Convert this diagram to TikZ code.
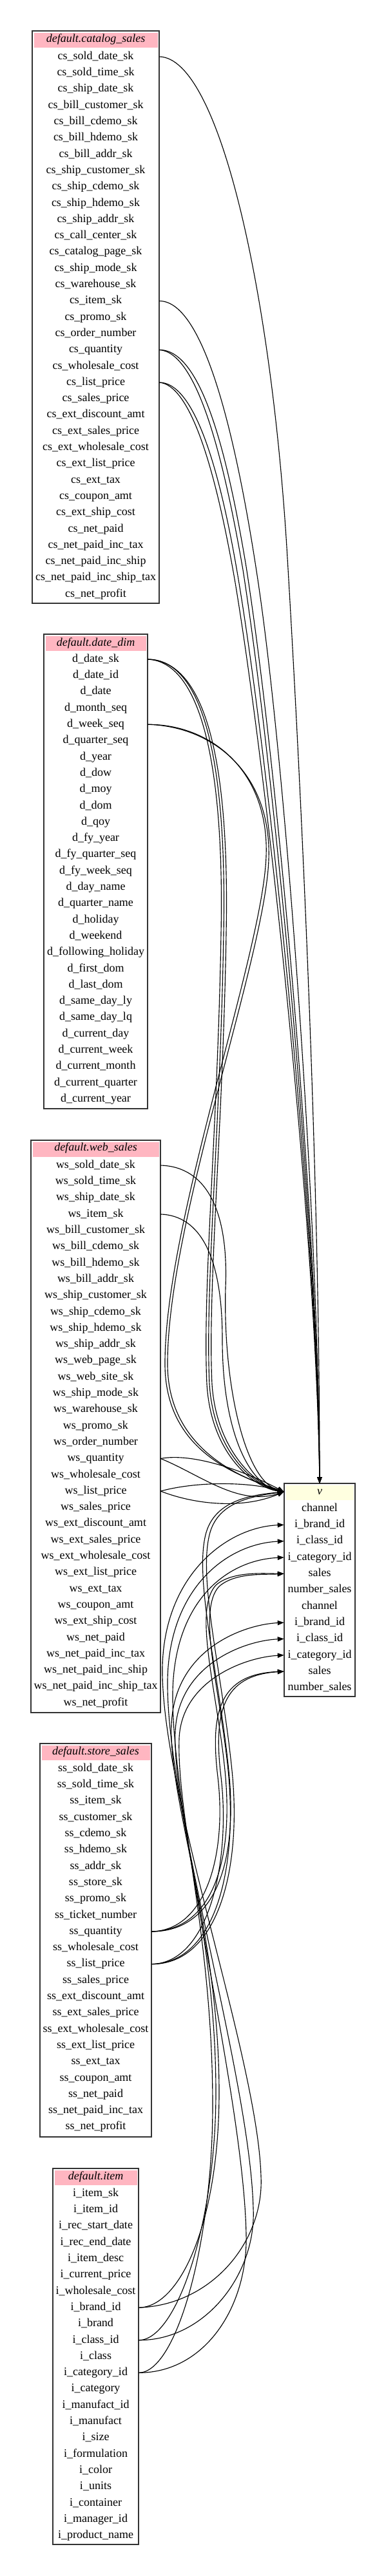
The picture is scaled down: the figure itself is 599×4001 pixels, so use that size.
\documentclass[tikz,border=0pt]{standalone}
\usepackage{fontspec}
\setmainfont{Liberation Serif}
\usetikzlibrary{arrows.meta}

\definecolor{hdrpink}{HTML}{FFB6C1}
\definecolor{hdryellow}{HTML}{FFFFE0}

\tikzset{
  tblbox/.style={draw=black!80, line width=1pt, fill=white},
  colrow/.style={minimum width=#1*0.75pt, minimum height=18.975pt, inner sep=0pt,
    text height=9.5pt, text depth=3pt, font=\fontsize{13.5}{16}\selectfont},
  tblhead/.style={colrow=#1, font=\fontsize{13.5}{16}\selectfont\itshape},
  flow/.style={-{Triangle[length=7.5pt,width=5.5pt]}, line width=0.85pt},
}

\begin{document}
\begin{tikzpicture}[x=0.75pt, y=-0.75pt]
  \fill[white] (0,0) rectangle (599,4001);
  \useasboundingbox (0,0) rectangle (599,4001);

  % catalog_sales table
  \draw[tblbox] (50,48) rectangle (247,937);
  \fill[hdrpink] (52.5,50.5) rectangle (244.5,74);
  \node[tblhead=197] (csh) at (148.5,61) {default.catalog\_sales};
  \foreach \c [count=\i from 0] in {cs\_sold\_date\_sk, cs\_sold\_time\_sk, cs\_ship\_date\_sk,
      cs\_bill\_customer\_sk, cs\_bill\_cdemo\_sk, cs\_bill\_hdemo\_sk, cs\_bill\_addr\_sk,
      cs\_ship\_customer\_sk, cs\_ship\_cdemo\_sk, cs\_ship\_hdemo\_sk, cs\_ship\_addr\_sk,
      cs\_call\_center\_sk, cs\_catalog\_page\_sk, cs\_ship\_mode\_sk, cs\_warehouse\_sk,
      cs\_item\_sk, cs\_promo\_sk, cs\_order\_number, cs\_quantity, cs\_wholesale\_cost,
      cs\_list\_price, cs\_sales\_price, cs\_ext\_discount\_amt, cs\_ext\_sales\_price,
      cs\_ext\_wholesale\_cost, cs\_ext\_list\_price, cs\_ext\_tax, cs\_coupon\_amt,
      cs\_ext\_ship\_cost, cs\_net\_paid, cs\_net\_paid\_inc\_tax, cs\_net\_paid\_inc\_ship,
      cs\_net\_paid\_inc\_ship\_tax, cs\_net\_profit}
    \node[colrow=197] (cs\i) at (148.5,{88+25.3*\i}) {\c};

  % date_dim table
  \draw[tblbox] (68,985) rectangle (229,1722);
  \fill[hdrpink] (70.5,987.5) rectangle (226.5,1011);
  \node[tblhead=161] (ddh) at (148.5,999) {default.date\_dim};
  \foreach \c [count=\i from 0] in {d\_date\_sk, d\_date\_id, d\_date, d\_month\_seq,
      d\_week\_seq, d\_quarter\_seq, d\_year, d\_dow, d\_moy, d\_dom, d\_qoy, d\_fy\_year,
      d\_fy\_quarter\_seq, d\_fy\_week\_seq, d\_day\_name, d\_quarter\_name, d\_holiday,
      d\_weekend, d\_following\_holiday, d\_first\_dom, d\_last\_dom, d\_same\_day\_ly,
      d\_same\_day\_lq, d\_current\_day, d\_current\_week, d\_current\_month,
      d\_current\_quarter, d\_current\_year}
    \node[colrow=161] (dd\i) at (148.5,{1024+25.3*\i}) {\c};

  % web_sales table
  \draw[tblbox] (48,1771) rectangle (249,2660);
  \fill[hdrpink] (50.5,1773.5) rectangle (246.5,1797);
  \node[tblhead=201] (wsh) at (148.5,1783) {default.web\_sales};
  \foreach \c [count=\i from 0] in {ws\_sold\_date\_sk, ws\_sold\_time\_sk, ws\_ship\_date\_sk,
      ws\_item\_sk, ws\_bill\_customer\_sk, ws\_bill\_cdemo\_sk, ws\_bill\_hdemo\_sk,
      ws\_bill\_addr\_sk, ws\_ship\_customer\_sk, ws\_ship\_cdemo\_sk, ws\_ship\_hdemo\_sk,
      ws\_ship\_addr\_sk, ws\_web\_page\_sk, ws\_web\_site\_sk, ws\_ship\_mode\_sk,
      ws\_warehouse\_sk, ws\_promo\_sk, ws\_order\_number, ws\_quantity, ws\_wholesale\_cost,
      ws\_list\_price, ws\_sales\_price, ws\_ext\_discount\_amt, ws\_ext\_sales\_price,
      ws\_ext\_wholesale\_cost, ws\_ext\_list\_price, ws\_ext\_tax, ws\_coupon\_amt,
      ws\_ext\_ship\_cost, ws\_net\_paid, ws\_net\_paid\_inc\_tax, ws\_net\_paid\_inc\_ship,
      ws\_net\_paid\_inc\_ship\_tax, ws\_net\_profit}
    \node[colrow=201] (ws\i) at (148.5,{1810+25.3*\i}) {\c};

  % store_sales table
  \draw[tblbox] (62,2708) rectangle (235,3319);
  \fill[hdrpink] (64.5,2710.5) rectangle (232.5,2734);
  \node[tblhead=173] (ssh) at (148.5,2721) {default.store\_sales};
  \foreach \c [count=\i from 0] in {ss\_sold\_date\_sk, ss\_sold\_time\_sk, ss\_item\_sk,
      ss\_customer\_sk, ss\_cdemo\_sk, ss\_hdemo\_sk, ss\_addr\_sk, ss\_store\_sk, ss\_promo\_sk,
      ss\_ticket\_number, ss\_quantity, ss\_wholesale\_cost, ss\_list\_price, ss\_sales\_price,
      ss\_ext\_discount\_amt, ss\_ext\_sales\_price, ss\_ext\_wholesale\_cost,
      ss\_ext\_list\_price, ss\_ext\_tax, ss\_coupon\_amt, ss\_net\_paid,
      ss\_net\_paid\_inc\_tax, ss\_net\_profit}
    \node[colrow=173] (ss\i) at (148.5,{2747+25.3*\i}) {\c};

  % item table
  \draw[tblbox] (82,3368) rectangle (215,3952);
  \fill[hdrpink] (84.5,3370.5) rectangle (212.5,3394);
  \node[tblhead=133] (ith) at (148.5,3381) {default.item};
  \foreach \c [count=\i from 0] in {i\_item\_sk, i\_item\_id, i\_rec\_start\_date,
      i\_rec\_end\_date, i\_item\_desc, i\_current\_price, i\_wholesale\_cost, i\_brand\_id,
      i\_brand, i\_class\_id, i\_class, i\_category\_id, i\_category, i\_manufact\_id,
      i\_manufact, i\_size, i\_formulation, i\_color, i\_units, i\_container,
      i\_manager\_id, i\_product\_name}
    \node[colrow=133] (it\i) at (148.5,{3407+25.3*\i}) {\c};

  % result view v
  \draw[tblbox] (441,2304) rectangle (551,2635);
  \fill[hdryellow] (443.5,2306.5) rectangle (548.5,2330);
  \node[tblhead=110] (vh) at (496,2317) {v};
  \foreach \c [count=\i from 0] in {channel, i\_brand\_id, i\_class\_id, i\_category\_id,
      sales, number\_sales, channel, i\_brand\_id, i\_class\_id, i\_category\_id,
      sales, number\_sales}
    \node[colrow=110] (v\i) at (496,{2343+25.3*\i}) {\c};

  % catalog_sales into the top of v
  \draw[flow] (cs0.east) .. controls (340,90) and (420,450) .. (445,850)
    .. controls (475,1350) and (496,1900) .. (vh.north);
  \draw[flow] (cs15.east) .. controls (320,467) and (370,700) .. (400,900)
    .. controls (445,1200) and (494,1900) .. (vh.north);
  \draw[flow] (cs18.east) .. controls (312,543) and (352,700) .. (382,880)
    .. controls (432,1200) and (493,1900) .. (vh.north);
  \draw[flow] (cs18.east) .. controls (305,547) and (346,705) .. (377,885)
    .. controls (426,1200) and (492,1900) .. (vh.north);
  \draw[flow] (cs20.east) .. controls (300,594) and (340,720) .. (370,900)
    .. controls (420,1200) and (491,1900) .. (vh.north);
  \draw[flow] (cs20.east) .. controls (295,598) and (334,725) .. (365,905)
    .. controls (414,1200) and (490,1900) .. (vh.north);

  % date_dim into v
  \draw[flow] (dd0.east) .. controls (320,1024) and (352,1200) .. (347,1450)
    .. controls (342,1750) and (318,2000) .. (325,2150)
    .. controls (332,2260) and (400,2310) .. (vh.west);
  \draw[flow] (dd0.east) .. controls (324,1026) and (356,1200) .. (351,1450)
    .. controls (346,1750) and (322,2000) .. (329,2150)
    .. controls (336,2255) and (400,2308) .. (vh.west);
  \draw[flow] (dd0.east) .. controls (316,1028) and (348,1205) .. (343,1450)
    .. controls (338,1750) and (314,2000) .. (321,2150)
    .. controls (328,2265) and (400,2312) .. (vh.west);
  \draw[flow] (dd4.east) .. controls (330,1125) and (418,1200) .. (413,1330)
    .. controls (408,1480) and (255,1900) .. (256,2120)
    .. controls (257,2260) and (380,2295) .. (vh.west);
  \draw[flow] (dd4.east) .. controls (334,1128) and (422,1205) .. (417,1335)
    .. controls (412,1485) and (259,1900) .. (260,2120)
    .. controls (261,2255) and (382,2298) .. (vh.west);

  % web_sales into v
  \draw[flow] (ws0.east) .. controls (320,1812) and (355,1880) .. (350,2000)
    .. controls (346,2150) and (380,2300) .. (vh.west);
  \draw[flow] (ws3.east) .. controls (310,1888) and (345,1950) .. (345,2080)
    .. controls (345,2220) and (385,2305) .. (vh.west);
  \draw[flow] (ws18.east) .. controls (300,2256) and (380,2285) .. (vh.west);
  \draw[flow] (ws18.east) .. controls (310,2290) and (370,2340) .. (vh.west);
  \draw[flow] (ws20.east) .. controls (300,2302) and (380,2300) .. (vh.west);
  \draw[flow] (ws20.east) .. controls (300,2336) and (375,2345) .. (vh.west);

  % store_sales into v
  \draw[flow] (ss10.east) .. controls (330,3000) and (370,2900) .. (355,2750)
    .. controls (340,2600) and (300,2450) .. (320,2380)
    .. controls (335,2330) and (390,2322) .. (vh.west);
  \draw[flow] (ss10.east) .. controls (330,2998) and (365,2890) .. (348,2740)
    .. controls (335,2620) and (300,2500) .. (335,2462)
    .. controls (360,2440) and (410,2444) .. (v4.west);
  \draw[flow] (ss10.east) .. controls (320,2998) and (352,2880) .. (338,2760)
    .. controls (326,2660) and (340,2600) .. (v10.west);
  \draw[flow] (ss12.east) .. controls (335,3051) and (376,2910) .. (360,2750)
    .. controls (345,2600) and (306,2450) .. (326,2380)
    .. controls (340,2332) and (392,2324) .. (vh.west);
  \draw[flow] (ss12.east) .. controls (335,3049) and (371,2900) .. (353,2740)
    .. controls (340,2620) and (306,2500) .. (340,2464)
    .. controls (365,2442) and (410,2446) .. (v4.west);
  \draw[flow] (ss12.east) .. controls (325,3049) and (358,2890) .. (343,2760)
    .. controls (331,2660) and (345,2602) .. (v10.west);

  % item into v
  \draw[flow] (it7.east) .. controls (330,3580) and (410,3480) .. (405,3380)
    .. controls (400,3200) and (255,2800) .. (252,2600)
    .. controls (250,2450) and (350,2372) .. (v1.west);
  \draw[flow] (it9.east) .. controls (320,3635) and (398,3530) .. (393,3430)
    .. controls (388,3230) and (262,2820) .. (260,2620)
    .. controls (258,2470) and (350,2398) .. (v2.west);
  \draw[flow] (it11.east) .. controls (320,3685) and (385,3580) .. (382,3470)
    .. controls (378,3260) and (270,2840) .. (268,2640)
    .. controls (266,2490) and (350,2423) .. (v3.west);
  \draw[flow] (it7.east) .. controls (280,3584) and (340,3450) .. (340,3250)
    .. controls (340,3000) and (262,2800) .. (266,2680)
    .. controls (270,2560) and (380,2523) .. (v7.west);
  \draw[flow] (it9.east) .. controls (275,3635) and (335,3450) .. (335,3250)
    .. controls (335,3000) and (268,2810) .. (272,2690)
    .. controls (276,2585) and (380,2548) .. (v8.west);
  \draw[flow] (it11.east) .. controls (275,3685) and (330,3480) .. (330,3270)
    .. controls (330,3010) and (274,2820) .. (278,2700)
    .. controls (282,2610) and (380,2574) .. (v9.west);
\end{tikzpicture}
\end{document}
